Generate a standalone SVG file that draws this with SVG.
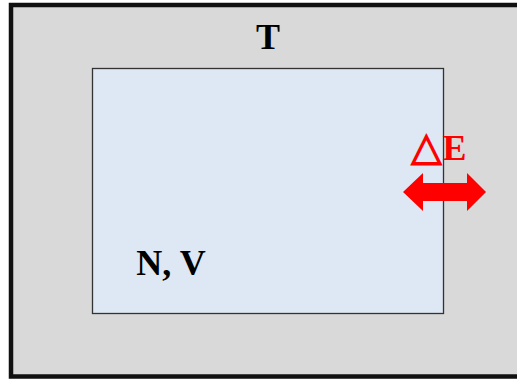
<svg xmlns="http://www.w3.org/2000/svg" width="517" height="379" viewBox="0 0 517 379">
<style>
.lbl{font-family:"Liberation Serif","Times New Roman",serif;font-weight:bold;font-size:36px}
</style>
<rect width="517" height="379" fill="#ffffff"/>
<g id="environment">
<rect x="11" y="5" width="512" height="371.5" fill="#d9d9d9" stroke="#111111" stroke-width="4.5"/>
<text class="lbl" x="268" y="49" text-anchor="middle" fill="#000">T</text>
</g>
<g id="system">
<rect x="92.5" y="68.5" width="351" height="245" fill="#dde8f4" stroke="#333333" stroke-width="1.3"/>
<text class="lbl" x="171" y="275" text-anchor="middle" fill="#000">N, V</text>
</g>
<g id="connectors">
<polygon points="403,192 423,173 423,183 467,183 467,173 486,192 467,211 467,201 423,201 423,211" fill="#ff0000"/>
<text class="lbl" x="439" y="160" text-anchor="middle" fill="#ff0000"><tspan font-size="40px">△</tspan>E</text>
</g>
</svg>
